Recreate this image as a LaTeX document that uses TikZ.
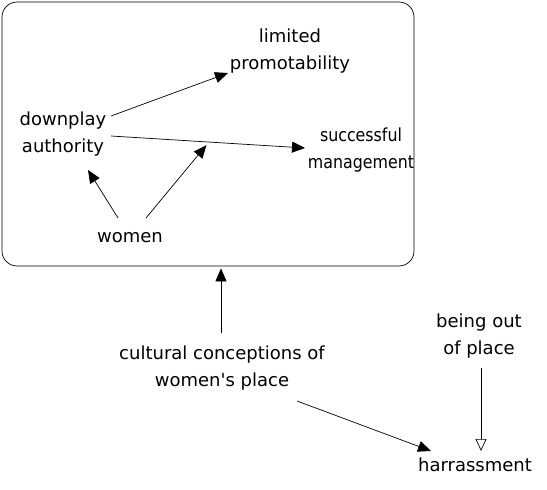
\documentclass[tikz,border=0pt]{standalone}
\usepackage{graphicx}
\usepackage{fontspec}
\setmainfont{DejaVu Sans}[Ligatures=TeXOff]
\usetikzlibrary{arrows.meta}
\newcommand{\hsq}[1]{\scalebox{0.88}[1]{#1}}
\tikzset{
  lbl/.style={align=center, inner sep=0pt, font=\fontsize{18}{27}\selectfont},
  arr/.style={draw, line width=0.7pt, -{Triangle[length=13pt,width=11pt]}},
  oarr/.style={draw, line width=0.7pt, -{Triangle[open,length=12pt,width=11pt]}},
  frame/.style={draw, line width=0.7pt, rounded corners=15pt, minimum width=412pt, minimum height=264pt, inner sep=0pt}
}
\begin{document}
\begin{tikzpicture}[x=1pt,y=-1pt]
\useasboundingbox (0,0) rectangle (547,490);
\node[frame] (fr) at (208,134) {};
\node[lbl] (lp) at (290,51) {limited\\promotability};
\node[lbl] (dp) at (63,134) {downplay\\authority};
\node[lbl] (sm) at (361,150) {\hsq{successful}\\\hsq{management}};
\node[lbl] (wo) at (130,238) {women};
\node[lbl] (cc) at (222,368) {cultural conceptions of\\women's place};
\node[lbl] (bo) at (479,336) {being out\\of place};
\node[lbl] (ha) at (475,465) {harrassment};
% arrows
\draw[arr] ([xshift=48pt,yshift=18pt]dp.center) -- ([xshift=-62pt,yshift=-22pt]lp.center);
\draw[arr] ([xshift=48pt,yshift=-2pt]dp.center) coordinate (e2s) -- ([xshift=-56pt,yshift=2pt]sm.center) coordinate (e2e);
\path (e2s) -- (e2e) coordinate[pos=0.505] (e2m);
\draw[arr] ([xshift=-12pt,yshift=20pt]wo.center) -- ([xshift=25pt,yshift=-36pt]dp.center);
\draw[arr, shorten >=4pt] ([xshift=16pt,yshift=20pt]wo.center) -- (e2m);
\draw[arr] ([xshift=-1pt,yshift=35pt]cc.center) -- ([xshift=13pt,yshift=-2pt]fr.south);
\draw[arr] ([xshift=75pt,yshift=-33pt]cc.center) -- ([xshift=-44pt,yshift=14pt]ha.center);
\draw[oarr] ([xshift=2pt,yshift=-32pt]bo.center) -- ([xshift=6pt,yshift=14pt]ha.center);
\end{tikzpicture}
\end{document}
